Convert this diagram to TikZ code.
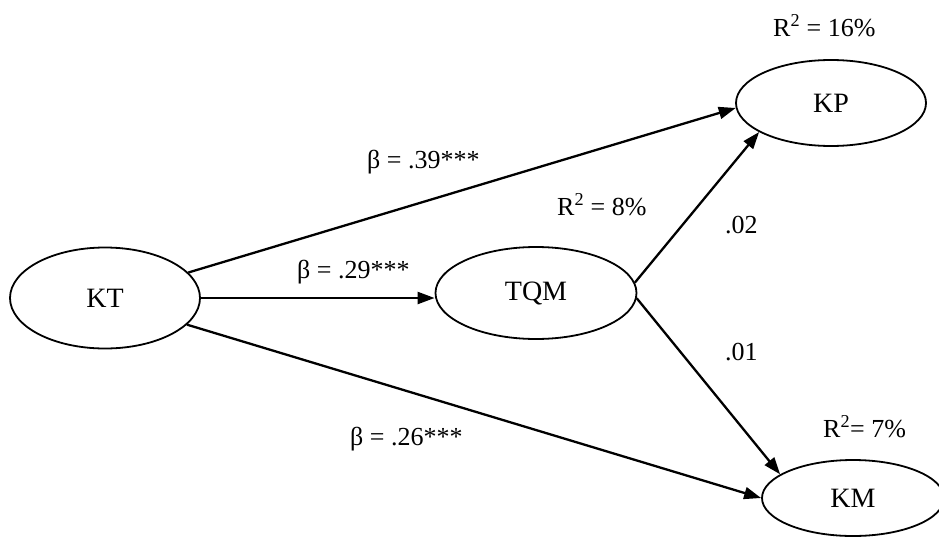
\documentclass[tikz,border=0pt]{standalone}
\usepackage{fontspec}
\setmainfont{Liberation Serif}
\usetikzlibrary{shapes.geometric,arrows.meta}
\begin{document}
\begin{tikzpicture}[x=1pt,y=-1pt,
  latent/.style={draw,line width=1.8pt,ellipse,inner sep=0pt,font=\fontsize{28}{32}\selectfont},
  path/.style={line width=2.3pt,-{Triangle[length=17pt,width=12pt]}},
  lbl/.style={font=\fontsize{26}{30}\selectfont,inner sep=0pt,anchor=base west}]
\useasboundingbox (0,0) rectangle (939,538);
\node[latent,minimum width=190pt,minimum height=101pt] (KT) at (105,298) {KT};
\node[latent,minimum width=201pt,minimum height=92pt] (TQM) at (536,293) {TQM};
\node[latent,minimum width=190pt,minimum height=86pt] (KP) at (831,103) {KP};
\node[latent,minimum width=182pt,minimum height=76pt] (KM) at (853,498) {KM};
\draw[path] (KT.17) -- (KP.183);
\draw[path] (KT.east) -- (KT.east -| TQM.west);
\draw[path] (KT.-18) -- (KM.180);
\draw[path] (TQM.6) -- (KP.202);
\draw[path] (TQM.-3) -- (KM.162);
\node[lbl] (l1) at (367,168) {β = .39***};
\node[lbl] (l2) at (297,278) {β = .29***};
\node[lbl] (l3) at (350,445) {β = .26***};
\node[lbl] (l4) at (725,233) {.02};
\node[lbl] (l5) at (725,360) {.01};
\node[lbl] (r1) at (557,215) {R\textsuperscript{2} = 8\%};
\node[lbl] (r2) at (773,36) {R\textsuperscript{2} = 16\%};
\node[lbl] (r3) at (823,437) {R\textsuperscript{2}= 7\%};
\end{tikzpicture}
\end{document}
